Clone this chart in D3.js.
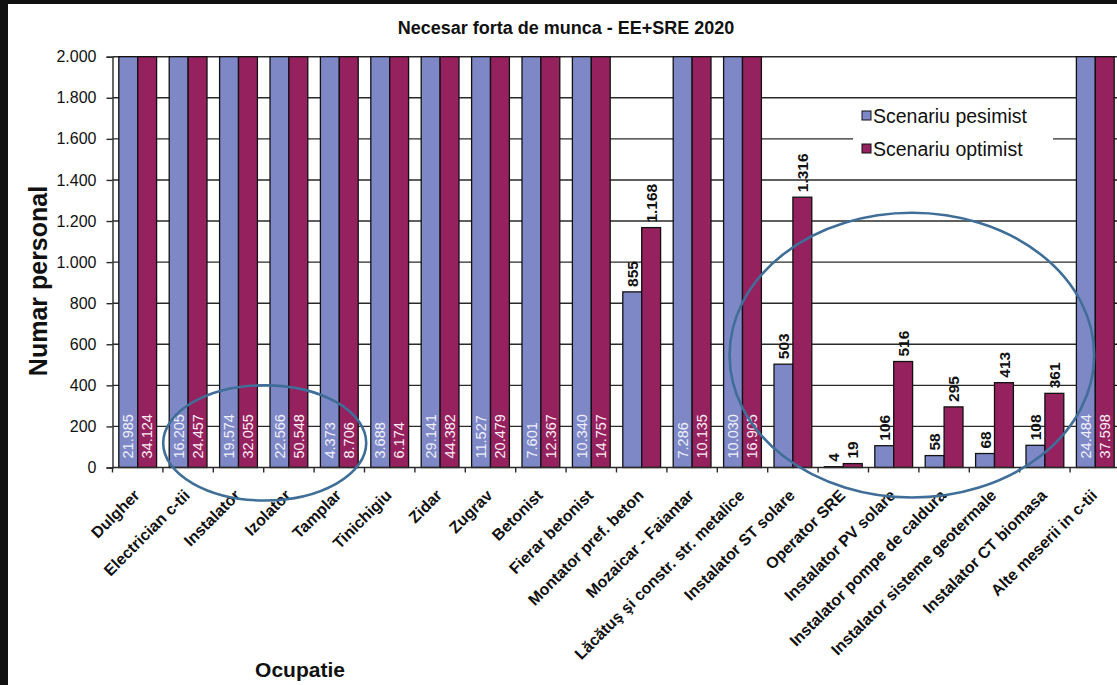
<!DOCTYPE html>
<html>
<head>
<meta charset="utf-8">
<script src="https://cdn.jsdelivr.net/npm/d3@7"></script>
<style>
  body { margin: 0; background: #fff; }
  svg { display: block; font-family: Arial, 'Liberation Sans', sans-serif; }
</style>
</head>
<body>
<svg id="chart" width="1117" height="685"></svg>
<script>
const categories = ['Dulgher', 'Electrician c-tii', 'Instalator', 'Izolator', 'Tamplar', 'Tinichigiu',
    'Zidar', 'Zugrav', 'Betonist', 'Fierar betonist', 'Montator pref. beton', 'Mozaicar - Faiantar',
    'Lăcătuş şi constr. str. metalice', 'Instalator ST solare', 'Operator SRE', 'Instalator PV solare',
    'Instalator pompe de caldura', 'Instalator sisteme geotermale', 'Instalator CT biomasa',
    'Alte meserii in c-tii'];
const pesimist = [21985, 16205, 19574, 22566, 4373, 3688, 29141, 11527, 7601, 10340,
    855, 7286, 10030, 503, 4, 106, 58, 68, 108, 24484];
const optimist = [34124, 24457, 32055, 50548, 8706, 6174, 44382, 20479, 12367, 14757,
    1168, 10135, 16905, 1316, 19, 516, 295, 413, 361, 37598];
const seriesNames = ['Scenariu pesimist', 'Scenariu optimist'];
const yTicks = [0, 200, 400, 600, 800, 1000, 1200, 1400, 1600, 1800, 2000];

const colors = { pesimist: '#7f88c6', optimist: '#95215f', ring: '#3f6e98', grid: '#2a2a2a' };

const loc = d3.formatLocale({ decimal: ',', thousands: '.', grouping: [3], currency: ['', ''] }),
    fmt = loc.format(',');

const svg = d3.select('#chart'),
    plotLeft = 112.5,
    plotRight = 1120.5,
    plotTop = 56.7,
    plotBottom = 467.5;

// frame
svg.append('rect').attr('width', 1117).attr('height', 685).attr('fill', '#111');
svg.append('rect').attr('x', 8).attr('y', 4).attr('width', 1117).attr('height', 685).attr('fill', '#fff');

const x = d3.scaleBand().domain(categories).range([plotLeft, plotRight]).paddingInner(0.25).paddingOuter(0.125),
    xs = d3.scaleBand().domain(seriesNames).range([0, x.bandwidth()]),
    y = d3.scaleLinear().domain([0, 2000]).range([plotBottom, plotTop]).clamp(true),
    step = x.step();

// grid
svg.append('g')
    .selectAll('line')
    .data(yTicks.filter(d => d > 0))
    .join('line')
    .attr('x1', plotLeft).attr('x2', plotRight)
    .attr('y1', d => y(d)).attr('y2', d => y(d))
    .attr('stroke', colors.grid)
    .attr('stroke-width', 1.4);

// y axis
const yAxis = svg.append('g')
    .attr('transform', `translate(${plotLeft},0)`)
    .call(d3.axisLeft(y).tickValues(yTicks).tickFormat(fmt).tickSize(6).tickPadding(10));
yAxis.select('.domain').attr('stroke', colors.grid).attr('stroke-width', 1.4);
yAxis.selectAll('.tick line').attr('stroke', colors.grid).attr('stroke-width', 1.4);
yAxis.selectAll('.tick text').attr('font-size', 16).attr('fill', '#111').attr('font-family', 'Arial, Liberation Sans');

// legend box (white, hides grid)
const legend = svg.append('g').attr('transform', 'translate(853,100)');
legend.append('rect').attr('width', 200).attr('height', 76).attr('fill', '#fff');
const legendItems = legend.selectAll('g')
    .data(seriesNames)
    .join('g')
    .attr('transform', (d, i) => `translate(9,${16 + i * 33})`);
legendItems.append('rect')
    .attr('x', 0).attr('y', -5)
    .attr('width', 9).attr('height', 9)
    .attr('fill', (d, i) => i ? colors.optimist : colors.pesimist)
    .attr('stroke', '#111').attr('stroke-width', 1);
legendItems.append('text')
    .attr('x', 11).attr('dy', '0.35em')
    .attr('font-size', 19.5)
    .attr('fill', '#111')
    .text(d => d);

// bars
const rows = categories.map((c, i) => ({ cat: c, vals: [pesimist[i], optimist[i]] }));
const groups = svg.append('g')
    .selectAll('g')
    .data(rows)
    .join('g')
    .attr('transform', d => `translate(${x(d.cat)},0)`);

const bars = groups.selectAll('g')
    .data(d => d.vals.map((v, j) => ({ v, s: seriesNames[j], j })))
    .join('g');

bars.append('rect')
    .attr('x', d => xs(d.s))
    .attr('y', d => y(d.v))
    .attr('width', xs.bandwidth())
    .attr('height', d => plotBottom - y(d.v))
    .attr('fill', d => d.j ? colors.optimist : colors.pesimist)
    .attr('stroke', '#111')
    .attr('stroke-width', 1.3);

bars.append('text')
    .attr('transform', d => {
        const cx = xs(d.s) + xs.bandwidth() / 2;
        return d.v > 2000 ? `translate(${cx},${plotBottom - 9}) rotate(-90)`
            : `translate(${cx},${y(d.v) - 5}) rotate(-90)`;
    })
    .attr('dy', '0.36em')
    .attr('font-size', d => d.v > 2000 ? 14.5 : 15.5)
    .attr('font-weight', d => d.v > 2000 ? 'normal' : 'bold')
    .attr('fill', d => d.v > 2000 ? (d.j ? '#fbeef4' : '#eef0fb') : '#111')
    .text(d => fmt(d.v));

// x axis
svg.append('line')
    .attr('x1', plotLeft).attr('x2', plotRight)
    .attr('y1', plotBottom).attr('y2', plotBottom)
    .attr('stroke', colors.grid).attr('stroke-width', 1.4);
svg.append('g')
    .selectAll('line')
    .data(categories)
    .join('line')
    .attr('x1', d => x(d) - step * 0.125).attr('x2', d => x(d) - step * 0.125)
    .attr('y1', plotBottom).attr('y2', plotBottom + 5)
    .attr('stroke', colors.grid).attr('stroke-width', 1.4);

svg.append('g')
    .selectAll('text')
    .data(categories)
    .join('text')
    .attr('transform', d => `translate(${x(d) + x.bandwidth() / 2 - 5},${plotBottom + 21}) rotate(-45)`)
    .attr('text-anchor', 'end')
    .attr('dy', '0.7em')
    .attr('font-size', 16)
    .attr('font-weight', 'bold')
    .attr('fill', '#111')
    .text(d => d);

// annotation rings
const rings = [
    { from: 'Electrician c-tii', to: 'Tamplar', top: 400, below: 33, l: -6, r: 8 },
    { from: 'Lăcătuş şi constr. str. metalice', to: 'Alte meserii in c-tii', top: 1240, below: 30, l: 6, r: -20 }
];
svg.append('g')
    .selectAll('ellipse')
    .data(rings)
    .join('ellipse')
    .attr('cx', d => ((x(d.from) + d.l) + (x(d.to) + x.bandwidth() + d.r)) / 2)
    .attr('cy', d => (y(d.top) + plotBottom + d.below) / 2)
    .attr('rx', d => ((x(d.to) + x.bandwidth() + d.r) - (x(d.from) + d.l)) / 2)
    .attr('ry', d => (plotBottom + d.below - y(d.top)) / 2)
    .attr('fill', 'none')
    .attr('stroke', colors.ring)
    .attr('stroke-width', 2.6);

// titles
svg.append('text')
    .attr('x', 566).attr('y', 34)
    .attr('text-anchor', 'middle')
    .attr('font-size', 18).attr('font-weight', 'bold')
    .attr('fill', '#111')
    .text('Necesar forta de munca - EE+SRE 2020');

svg.append('text')
    .attr('transform', 'translate(47,281) rotate(-90)')
    .attr('text-anchor', 'middle')
    .attr('font-size', 25).attr('font-weight', 'bold')
    .attr('fill', '#111')
    .text('Numar personal');

svg.append('text')
    .attr('x', 300).attr('y', 677)
    .attr('text-anchor', 'middle')
    .attr('font-size', 21).attr('font-weight', 'bold')
    .attr('fill', '#111')
    .text('Ocupatie');
</script>
</body>
</html>
